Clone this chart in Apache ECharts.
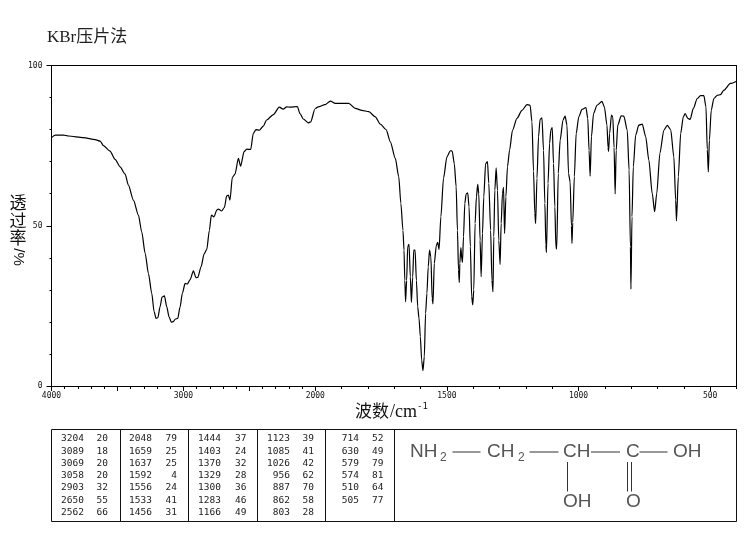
<!DOCTYPE html>
<html><head><meta charset="utf-8">
<style>html,body{margin:0;padding:0;background:#fff}#c{width:748px;height:539px}</style>
<script src="https://cdn.jsdelivr.net/npm/echarts@6/dist/echarts.min.js"></script>
</head><body><div id="c"></div>
<script>
const titleText = 'KBr压片法';
const yTicksShown = [0, 50, 100];
const xLabelsHigh = [4000, 3000, 2000];
const xLabelsLow = [1500, 1000, 500];
const xLongTicksLow = [500, 1000, 1500];

// [wavenumber, transmittance %], 4000-2000 cm-1 (compressed scale)
const spectrumHigh = [
[4000,77.5],[3972,78.3],[3909,78.3],[3871,78],[3758,77.5],[3669,76.9],[3631,76.4],[3606,75],[3556,73.3],[3518,70.7],
[3480,68.4],[3442,66.1],[3417,62.7],[3379,58],[3341,53.3],[3316,48.1],[3290,41.4],[3265,35.1],[3240,28.9],[3222,23.2],
[3207,21.1],[3194,21.3],[3177,24.7],[3162,27.7],[3144,28.1],[3126,24.7],[3109,21.6],[3091,19.9],[3076,20.1],[3061,20.9],
[3043,21.1],[3025,24.7],[3008,28.9],[2987,32],[2970,31.8],[2950,33.1],[2924,35.9],[2904,33.8],[2891,33.9],[2866,37.2],
[2843,41.2],[2823,42.6],[2803,48.6],[2788,53.3],[2768,52.8],[2747,54.9],[2735,55.2],[2710,54.6],[2689,55.7],[2672,59.3],
[2659,59.6],[2647,58],[2629,65.1],[2609,66.1],[2583,71],[2566,68.6],[2540,73.1],[2520,73.9],[2490,73.8],[2470,78.8],
[2450,80],[2424,79.8],[2394,81.1],[2369,83],[2318,84.7],[2273,87],[2243,86.4],[2217,87.1],[2192,87],[2136,87.2],
[2116,85],[2091,83.3],[2053,82.1],[2035,82.4],[2003,86.4],[2000,86.5]
];
// [wavenumber, transmittance %], 2000-400 cm-1
const spectrumLow = [
[2000,86.5],[1989,87.1],[1963,87.8],[1943,88.9],[1924,88.2],[1873,88.2],[1848,86.6],[1823,86],[1797,85.6],[1772,84],
[1753,81.7],[1731,80],[1715,76.2],[1696,71],[1683,65.3],[1675,57],[1667,48.6],[1663,42.4],[1660,33],[1657,26.3],
[1653,33],[1649,43.5],[1644,44.2],[1639,34.1],[1635,26.1],[1630,34],[1626,42.4],[1621,42.4],[1616,33],[1611,24.7],
[1606,21.1],[1601,15.4],[1596,8.1],[1591,4.8],[1586,9.1],[1581,22.7],[1576,28.9],[1571,37.2],[1566,42.4],[1561,40.3],
[1556,27.3],[1553,25.6],[1548,38.3],[1540,44],[1535,44.8],[1530,42.6],[1523,52.8],[1513,64.8],[1500,71.5],[1487,73.4],
[1480,73.3],[1472,69.4],[1465,62.2],[1460,48.6],[1456,36.2],[1453,32.3],[1451,38.3],[1447,43.2],[1443,39.3],[1441,38.6],
[1437,46.6],[1432,57],[1427,59.9],[1421,60.3],[1416,55.9],[1411,43.5],[1406,27.9],[1402,25.3],[1398,30],[1393,50.7],
[1388,59],[1383,62.9],[1379,60],[1374,45.5],[1370,34.1],[1365,47.6],[1360,59],[1353,69.4],[1346,70],[1341,63.2],
[1334,48.6],[1329,33],[1325,29.4],[1322,46.6],[1318,61.1],[1313,68.1],[1308,61.1],[1303,45.5],[1298,37.9],[1294,50.7],
[1289,60.1],[1285,62],[1281,47.6],[1276,59],[1270,68.4],[1262,73.6],[1251,79.8],[1234,83.5],[1215,86],[1196,87.8],
[1184,87.6],[1177,82.4],[1171,67],[1166,53.8],[1163,50.7],[1158,64.8],[1152,77.8],[1146,83.2],[1139,83.7],[1133,73.5],
[1128,57],[1124,44],[1122,41.7],[1116,63.2],[1110,75.7],[1105,79.9],[1100,80.6],[1095,69.4],[1090,55.9],[1086,43.3],
[1083,42.7],[1077,66.3],[1070,76.7],[1059,83],[1051,84.2],[1044,81.4],[1038,66.3],[1032,63.7],[1027,50],[1025,44.5],
[1022,51],[1016,65.3],[1009,78.8],[999,84],[987,86.3],[972,86.9],[965,83.5],[960,73.5],[956,65.5],[951,77.8],
[943,85],[930,87.6],[911,88.8],[902,87.1],[892,81.4],[888,74.4],[886,73.2],[882,78.8],[875,84.5],[870,84],
[865,74.4],[861,59.9],[857,73.5],[851,81.4],[838,84.3],[828,84.2],[815,79.8],[808,67.4],[803,43.5],[801,30.2],
[797,52.8],[792,68.4],[783,78.3],[771,81.4],[758,81.7],[745,77.8],[733,70.5],[720,60],[711,54.4],[703,60],
[691,72.6],[676,79.8],[663,81.3],[650,80],[638,71.5],[631,58],[628,51.5],[621,65.3],[612,78.8],[602,84],
[595,85],[585,83.5],[576,83.2],[564,86.6],[549,89.7],[537,90.6],[524,90.6],[516,87.1],[511,73.8],[507,66.8],
[503,76.7],[496,86],[486,89.7],[473,90.7],[461,90.9],[448,92.3],[423,94.4],[400,95.1]
];
// peak table, one list per column: [wavenumber, T%]
const peaksCol1 = [[3204,20],[3089,18],[3069,20],[3058,20],[2903,32],[2650,55],[2562,66]];
const peaksCol2 = [[2048,79],[1659,25],[1637,25],[1592,4],[1556,24],[1533,41],[1456,31]];
const peaksCol3 = [[1444,37],[1403,24],[1370,32],[1329,28],[1300,36],[1283,46],[1166,49]];
const peaksCol4 = [[1123,39],[1085,41],[1026,42],[956,62],[887,70],[862,58],[803,28]];
const peaksCol5 = [[714,52],[630,49],[579,79],[574,81],[510,64],[505,77]];
const peakColumns = [peaksCol1, peaksCol2, peaksCol3, peaksCol4, peaksCol5];

const MONO = '"DejaVu Sans Mono", monospace';
const INK = '#111';
const chart = echarts.init(document.getElementById('c'), null, {renderer: 'canvas'});

const g = [];
function txt(text, x, y, o) {
  g.push({type: 'text', x, y, silent: true, rotation: o.rotation || 0, style: {
    text, fill: o.fill || INK, font: o.font, align: o.align || 'left', verticalAlign: 'middle'}});
}
function line(x1, y1, x2, y2, w, c) {
  g.push({type: 'line', silent: true, shape: {x1, y1, x2, y2}, style: {stroke: c || INK, lineWidth: w || 1}});
}

// axis titles
const CJK = '"Noto Sans CJK SC", sans-serif';
['透', '过', '率'].forEach((c, i) => txt(c, 18, 203 + i * 17.5, {font: '17px ' + CJK, align: 'center'}));
txt('/%', 18, 257, {font: '15px "Liberation Sans"', align: 'center', rotation: -Math.PI / 2});
txt('波数', 355, 411, {font: '17px ' + CJK});
txt('/cm', 390, 412, {font: '18px "Liberation Serif"'});
txt('-1', 417, 407, {font: '9px "DejaVu Sans Mono"'});

// peak table frame
const tL = 51.5, tR = 736.5, tT = 429.5, tB = 521.5;
line(tL, tT, tR, tT); line(tL, tB, tR, tB); line(tL, tT, tL, tB); line(tR, tT, tR, tB);
[120.5, 188.5, 257.5, 325.5, 394.5].forEach(x => line(x, tT, x, tB));
const numEnd = [84, 152, 221, 290, 359], valEnd = [108, 177, 246.5, 314, 383.5];
peakColumns.forEach((col, c) => col.forEach((p, r) => {
  const y = 438.8 + r * 12.3;
  txt(String(p[0]), numEnd[c], y, {font: '9.5px ' + MONO, align: 'right', fill: '#222'});
  txt(String(p[1]), valEnd[c], y, {font: '9.5px ' + MONO, align: 'right', fill: '#222'});
}));

// structure formula
const SF = '19px "Liberation Sans"', SUB = '12px "Liberation Sans"', MOL = '#555';
const my = 452, my2 = 502;
txt('NH', 410, my, {font: SF, fill: MOL}); txt('2', 440, my + 6, {font: SUB, fill: MOL});
line(452.5, my, 480.5, my, 1, '#333');
txt('CH', 487, my, {font: SF, fill: MOL}); txt('2', 518, my + 6, {font: SUB, fill: MOL});
line(529.5, my, 558.5, my, 1, '#333');
txt('CH', 563, my, {font: SF, fill: MOL});
line(591, my, 620, my, 1, '#333');
txt('C', 626, my, {font: SF, fill: MOL});
line(639.5, my, 667.5, my, 1, '#333');
txt('OH', 673, my, {font: SF, fill: MOL});
line(567.5, 462, 567.5, 491.5, 1, '#333');
txt('OH', 563, my2, {font: SF, fill: MOL});
line(627.5, 462, 627.5, 491.5, 1, '#333'); line(631.5, 462, 631.5, 491.5, 1, '#333');
txt('O', 626, my2, {font: SF, fill: MOL});

const axisFont = {fontFamily: MONO, fontSize: 8, color: INK};
const axLine = {show: true, onZero: false, lineStyle: {color: '#000', width: 1}};
const tickStyle = {color: '#000'};
function topAxis(gridIndex, min, max) {
  return {type: 'value', gridIndex, min, max, inverse: true, position: 'top', splitLine: {show: false},
    axisLine: axLine, axisTick: {show: false}, axisLabel: {show: false}};
}

chart.setOption({
  animation: false,
  backgroundColor: '#fff',
  title: {text: titleText, left: 47, top: 29, padding: 0, textStyle: {
    fontFamily: '"Liberation Serif", "Noto Sans CJK SC"', fontSize: 17, fontWeight: 'normal', color: '#222'}},
  grid: [
    {left: 51.5, top: 65.5, width: 263.8, height: 320.5, show: false},
    {left: 315.3, top: 65.5, width: 421.2, height: 320.5, show: false}
  ],
  xAxis: [
    {type: 'value', gridIndex: 0, min: 2000, max: 4000, interval: 500, inverse: true, position: 'bottom', splitLine: {show: false},
      axisLine: axLine, axisTick: {show: true, length: 5, lineStyle: tickStyle},
      minorTick: {show: true, splitNumber: 5, length: 3, lineStyle: tickStyle}, minorSplitLine: {show: false},
      axisLabel: {margin: 6, ...axisFont, customValues: xLabelsHigh, formatter: v => String(v)}},
    {type: 'value', gridIndex: 1, min: 400, max: 2000, interval: 100, inverse: true, position: 'bottom', splitLine: {show: false},
      axisLine: axLine, axisTick: {show: true, length: 3, lineStyle: tickStyle}, axisLabel: {show: false}},
    {type: 'value', gridIndex: 1, min: 400, max: 2000, inverse: true, position: 'bottom', splitLine: {show: false},
      axisLine: axLine, axisTick: {show: true, length: 5, lineStyle: tickStyle, customValues: xLongTicksLow},
      axisLabel: {margin: 6, ...axisFont, customValues: xLabelsLow, formatter: v => String(v)}},
    topAxis(0, 2000, 4000),
    topAxis(1, 400, 2000)
  ],
  yAxis: [
    {type: 'value', gridIndex: 0, min: 0, max: 100, interval: 50, position: 'left', splitLine: {show: false},
      axisLine: axLine, axisTick: {show: true, length: 5, lineStyle: tickStyle},
      minorTick: {show: true, splitNumber: 5, length: 2, lineStyle: tickStyle}, minorSplitLine: {show: false},
      axisLabel: {margin: 9, ...axisFont, customValues: yTicksShown, formatter: v => String(v)}},
    {type: 'value', gridIndex: 1, min: 0, max: 100, position: 'right', splitLine: {show: false},
      axisLine: axLine, axisTick: {show: false}, axisLabel: {show: false}}
  ],
  series: [
    {type: 'line', xAxisIndex: 0, yAxisIndex: 0, data: spectrumHigh, showSymbol: false, smooth: 0.25, smoothMonotone: 'x',
      lineStyle: {color: '#000', width: 1.2}},
    {type: 'line', xAxisIndex: 1, yAxisIndex: 1, data: spectrumLow, showSymbol: false, smooth: 0.25, smoothMonotone: 'x',
      lineStyle: {color: '#000', width: 1.2}}
  ],
  graphic: {elements: g}
});
</script></body></html>
